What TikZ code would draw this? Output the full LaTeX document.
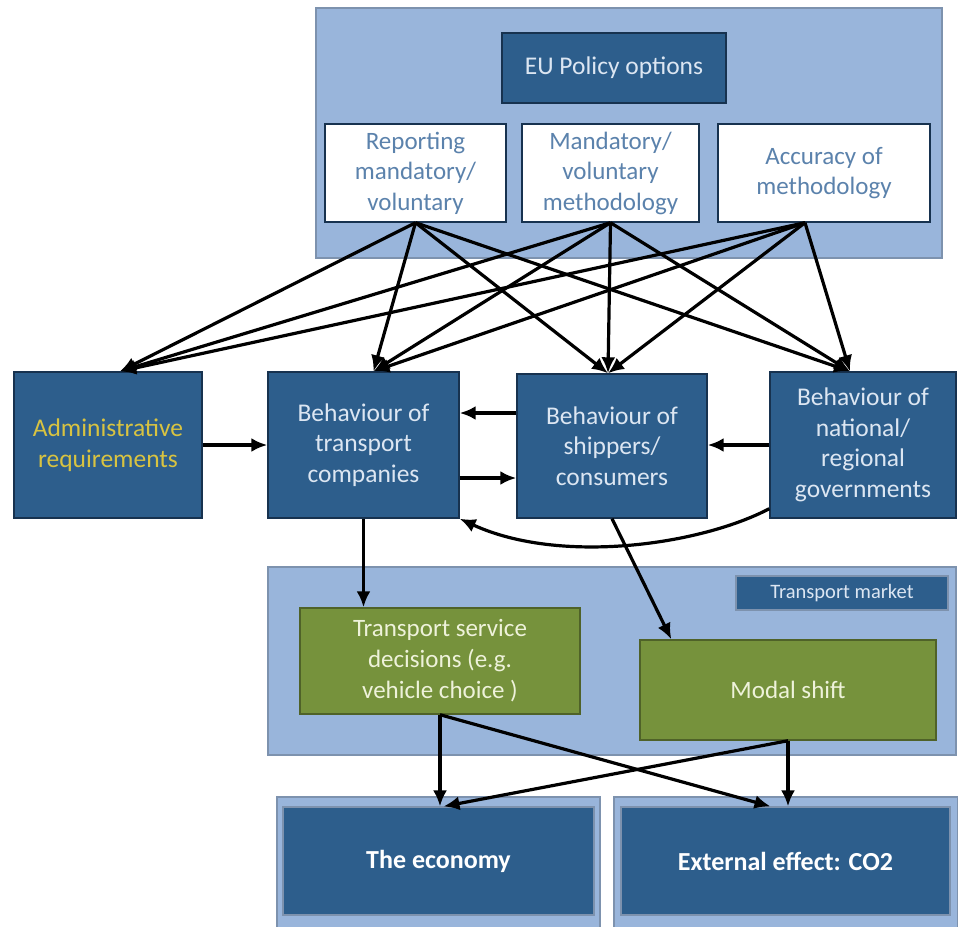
\documentclass[tikz,border=0pt]{standalone}
\usepackage{fontspec}
\setmainfont{Carlito}
\usetikzlibrary{arrows.meta,calc}
\definecolor{lightbl}{HTML}{99B5DB}
\definecolor{contborder}{HTML}{7D92AE}
\definecolor{darkbl}{HTML}{2D5E8C}
\definecolor{darkborder}{HTML}{17324F}
\definecolor{txtlight}{HTML}{DCE6F2}
\definecolor{txtblue}{HTML}{5B82AC}
\definecolor{goldtxt}{HTML}{D8C341}
\definecolor{greenf}{HTML}{76923C}
\definecolor{greenb}{HTML}{4F6228}
\definecolor{greentxt}{HTML}{EEF2DA}
\begin{document}
\begin{tikzpicture}[x=1pt,y=-1pt,
  container/.style={draw=contborder, fill=lightbl, line width=1.4pt, inner sep=0pt},
  darkbox/.style={draw=darkborder, fill=darkbl, line width=1.4pt, text=txtlight, align=center, inner sep=0pt, font=\fontsize{25.5}{30.5}\selectfont},
  whitebox/.style={draw=darkborder, fill=white, line width=1.4pt, text=txtblue, align=center, inner sep=0pt, font=\fontsize{25}{30.5}\selectfont},
  greenbox/.style={draw=greenb, fill=greenf, line width=1.4pt, text=greentxt, align=center, inner sep=0pt, font=\fontsize{25}{31}\selectfont},
  innerbox/.style={draw=contborder, fill=darkbl, line width=1.2pt, text=white, align=center, inner sep=0pt, font=\fontsize{26}{30}\selectfont\bfseries},
  arr/.style={line width=3.2pt, -{Latex[length=16pt,width=14pt]}}
]
\useasboundingbox (0,0) rectangle (958,926);
\fill[white] (0,0) rectangle (958,926);

% top container
\node[container, minimum width=626pt, minimum height=250pt] (top) at (629,133) {};
\node[darkbox, minimum width=224pt, minimum height=70pt] (eu) at (614,68) {EU Policy options};
\node[whitebox, minimum width=181pt, minimum height=98pt] (rep) at (415.5,173) {Reporting\\mandatory/\\voluntary};
\node[whitebox, minimum width=177pt, minimum height=98pt] (man) at (610.5,173) {Mandatory/\\voluntary\\methodology};
\node[whitebox, minimum width=212pt, minimum height=98pt] (acc) at (824,173) {Accuracy of\\methodology};

% middle row
\node[darkbox, text=goldtxt, minimum width=188pt, minimum height=146pt] (adm) at (108,445) {Administrative\\requirements};
\node[darkbox, minimum width=191pt, minimum height=146pt] (tc) at (363.5,445) {Behaviour of\\transport\\companies};
\node[darkbox, minimum width=190pt, minimum height=144pt] (sh) at (612,446) {Behaviour of\\shippers/\\consumers};
\node[darkbox, minimum width=186pt, minimum height=146pt] (gov) at (863,445) {Behaviour of\\national/\\regional\\governments};

% transport market
\node[container, minimum width=688pt, minimum height=188pt] (tm) at (612,661) {};
\node[darkbox, draw=contborder, minimum width=212pt, minimum height=34pt, font=\fontsize{20.5}{22}\selectfont] (tml) at (842,593) {Transport market};
\node[greenbox, minimum width=280pt, minimum height=106pt] (tsd) at (440,661) {Transport service\\decisions (e.g.\\vehicle choice )};
\node[greenbox, minimum width=296pt, minimum height=100pt] (ms) at (788,690) {Modal shift};

% bottom
\node[container, minimum width=323pt, minimum height=132pt] (econout) at (438.5,863) {};
\node[innerbox, minimum width=311pt, minimum height=108pt] (econ) at (438.5,861) {The economy};
\node[container, minimum width=344pt, minimum height=132pt] (co2out) at (786,863) {};
\node[innerbox, minimum width=329pt, minimum height=108pt] (co2) at (785.5,861) {External effect: CO2};

% arrows from options
\coordinate (repS) at (rep.south);
\coordinate (manS) at (man.south);
\coordinate (accS) at ([xshift=-19pt]acc.south);
\coordinate (admN) at ([xshift=12pt]adm.north);
\coordinate (tcN) at ([xshift=10pt]tc.north);
\coordinate (shN) at ([xshift=-4pt]sh.north);
\coordinate (govN) at ([xshift=-13pt]gov.north);
\foreach \s in {repS,manS,accS}{
  \foreach \t in {admN,tcN,shN,govN}{
    \draw[arr] (\s) -- (\t);
  }
}

% horizontal arrows
\draw[arr] (adm.east) -- (tc.west);
\draw[arr] ([yshift=33pt]sh.west) -- ([yshift=33pt]sh.west -| tc.east);
\draw[arr] ([yshift=-33pt]tc.east) -- ([yshift=-33pt]tc.east -| sh.west);
\draw[arr] (gov.west) -- (gov.west -| sh.east);
\draw[arr] ([yshift=10pt]gov.south west) .. controls (700,545) and (560,565) .. (tc.south east);

% down arrows
\draw[arr] (tc.south) -- (tc.south |- tsd.north);
\draw[arr] (sh.south) -- ([xshift=32pt]ms.north west);
\draw[arr] (tsd.south) -- (tsd.south |- econ.north);
\draw[arr] (tsd.south) -- ([xshift=-15pt]co2.north);
\draw[arr] (ms.south) -- (ms.south |- co2.north);
\draw[arr] (ms.south) -- ([xshift=5pt]econ.north);
\end{tikzpicture}
\end{document}
